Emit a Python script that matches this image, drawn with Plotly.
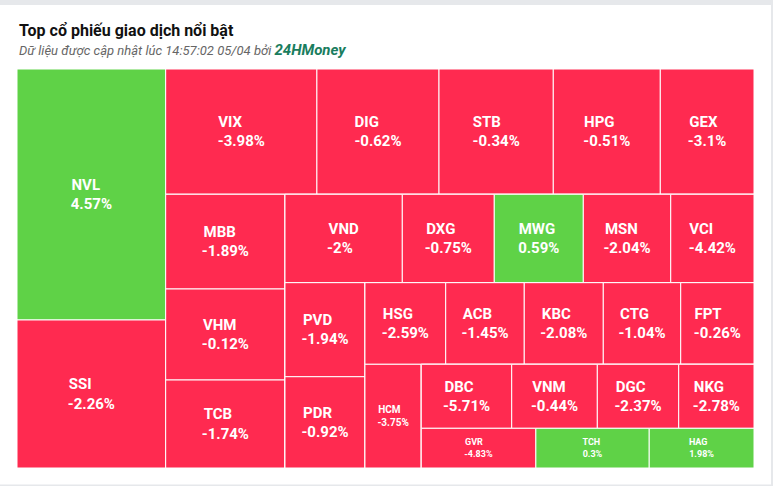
import plotly.graph_objects as go

# ---- data ----
ma_cp = ["NVL", "SSI", "VIX", "DIG", "STB", "HPG", "GEX", "MBB", "VHM", "TCB",
         "VND", "DXG", "MWG", "MSN", "VCI", "PVD", "PDR", "HSG", "ACB", "KBC",
         "CTG", "FPT", "HCM", "DBC", "VNM", "DGC", "NKG", "GVR", "TCH", "HAG"]
gia_tri = [373.2, 220.1, 189.5, 153.0, 143.2, 134.1, 117.4, 113.0, 108.6, 105.0,
           103.7, 81.3, 78.7, 77.3, 73.6, 75.2, 73.0, 65.9, 64.1, 64.5,
           63.2, 59.8, 58.4, 57.9, 54.8, 52.1, 48.2, 45.5, 45.0, 41.6]
thay_doi = [4.57, -2.26, -3.98, -0.62, -0.34, -0.51, -3.1, -1.89, -0.12, -1.74,
            -2, -0.75, 0.59, -2.04, -4.42, -1.94, -0.92, -2.59, -1.45, -2.08,
            -1.04, -0.26, -3.75, -5.71, -0.44, -2.37, -2.78, -4.83, 0.3, 1.98]
# block each ticker belongs to (rows / columns of the alternating layout)
nhom_cp = ["c1", "c1", "row1", "row1", "row1", "row1", "row1", "c2", "c2", "c2",
           "row3", "row3", "row3", "row3", "row3", "c4", "c4", "row5", "row5", "row5",
           "row5", "row5", "r6", "row7a", "row7a", "row7a", "row7a", "row7b", "row7b", "row7b"]
nhom_id = ["root", "c1", "r1", "row1", "r2", "c2", "r3", "row3", "r4", "c4",
           "r5", "row5", "r6", "r7", "row7a", "row7b"]
nhom_cha = ["", "root", "root", "r1", "r1", "r2", "r2", "r3", "r3", "r4",
            "r4", "r5", "r5", "r6", "r7", "r7"]

# ---- style ----
RED = "#ff2a50"
GREEN = "#5fd247"
FONT = "Roboto"
BASE_SIZE = 15
SMALL_TEXT = {"HCM": 10, "GVR": 9, "TCH": 9, "HAG": 9}

W = {c: 0.562 for c in "0123456789"}
W.update({".": 0.276, "-": 0.281, "%": 0.734,
          "A": 0.665, "B": 0.636, "C": 0.649, "D": 0.636, "E": 0.551, "F": 0.536,
          "G": 0.678, "H": 0.697, "I": 0.285, "K": 0.630, "L": 0.534, "M": 0.870,
          "N": 0.697, "P": 0.641, "R": 0.624, "S": 0.604, "T": 0.607, "V": 0.652,
          "W": 0.870, "X": 0.630, "Y": 0.610})
NBSP_W = 0.248


def width_em(s):
    return sum(W.get(c, 0.56) for c in s)


def block(label, pct):
    a, b = width_em(label), width_em(pct)
    n = int(round(abs(a - b) / NBSP_W))
    if a < b:
        label += "\u00a0" * n
    else:
        pct += "\u00a0" * n
    return f"<b>{label}</b><br><b>{pct}</b>"


ids, labels, parents, values, colors, texts, sizes = [], [], [], [], [], [], []
for cp, v, d, g in zip(ma_cp, gia_tri, thay_doi, nhom_cp):
    ids.append(cp)
    labels.append(cp)
    parents.append(g)
    values.append(v)
    colors.append(GREEN if d > 0 else RED)
    texts.append(block(cp, f"{d:g}%"))
    sizes.append(SMALL_TEXT.get(cp, BASE_SIZE))
for gid, gp in zip(nhom_id, nhom_cha):
    ids.append(gid)
    labels.append(gid)
    parents.append(gp)
    values.append(0)
    colors.append("rgba(0,0,0,0)")
    texts.append("")
    sizes.append(BASE_SIZE)

fig = go.Figure(go.Treemap(
    ids=ids, labels=labels, parents=parents, values=values,
    branchvalues="remainder", sort=False,
    text=texts, textinfo="text", textposition="middle center",
    textfont=dict(family=FONT, color="white", size=sizes),
    marker=dict(colors=colors, line=dict(color="white", width=1),
                pad=dict(t=0, l=0, r=0, b=0), depthfade=False),
    tiling=dict(packing="slice-dice", pad=0),
    pathbar=dict(visible=False),
    hoverinfo="skip",
))

fig.update_layout(
    width=773, height=486,
    margin=dict(l=17, r=19, t=69, b=18),
    paper_bgcolor="white",
    plot_bgcolor="white",
    font=dict(family=FONT),
    showlegend=False,
    annotations=[
        dict(text="<b>Top cổ phiếu giao dịch nổi bật</b>", xref="paper", yref="paper",
             x=0.0, y=1.0965, xanchor="left", yanchor="middle", showarrow=False,
             font=dict(family=FONT, size=16, color="#111111")),
        dict(text="<i>Dữ liệu được cập nhật lúc 14:57:02 05/04 bởi </i>"
                  "<span style='font-size:15px;color:#1a7d5e'><b><i>24HMoney</i></b></span>",
             xref="paper", yref="paper", x=0.0, y=1.0476, xanchor="left", yanchor="middle",
             showarrow=False, font=dict(family=FONT, size=13, color="#666666")),
    ],
    shapes=[
        dict(type="rect", xref="paper", yref="paper", x0=-0.03, x1=1.03, y0=1.1604, y1=1.18,
             fillcolor="#e6e8eb", line=dict(width=0), layer="below"),
        dict(type="rect", xref="paper", yref="paper", x0=1.0231, x1=1.03, y0=-0.05, y1=1.18,
             fillcolor="#e6e8eb", line=dict(width=0), layer="below"),
        dict(type="rect", xref="paper", yref="paper", x0=-0.03, x1=1.03, y0=-0.05, y1=-0.0414,
             fillcolor="#e6e8eb", line=dict(width=0), layer="below"),
    ],
)

fig.write_html("out.html", config={"displayModeBar": False},
               post_script="document.body.style.margin='0';")
